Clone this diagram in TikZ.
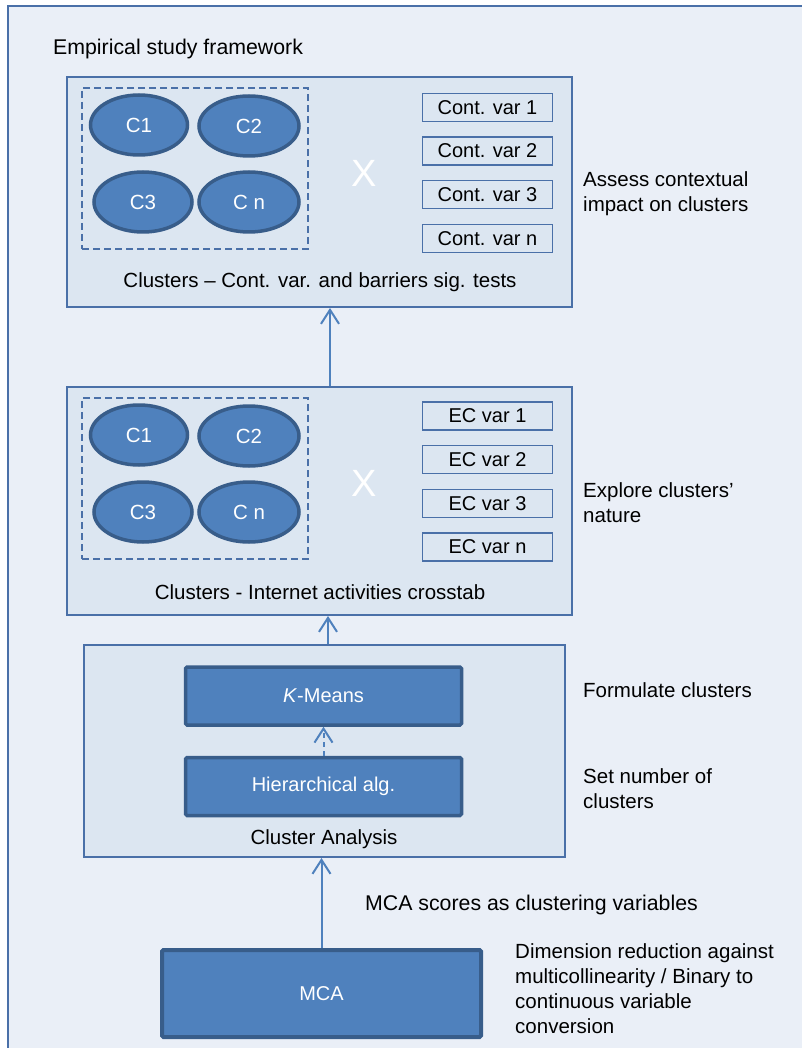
\documentclass[tikz,border=0pt]{standalone}
\usepackage{fontspec}
\setmainfont{Liberation Sans}
\usetikzlibrary{arrows.meta,shapes.geometric}
\definecolor{bgc}{HTML}{EAEFF7}
\definecolor{pfill}{HTML}{DCE6F1}
\definecolor{pborder}{HTML}{4A70A8}
\definecolor{dfill}{HTML}{4F81BD}
\definecolor{dborder}{HTML}{385D8A}
\begin{document}
\begin{tikzpicture}[x=1pt,y=-1pt,
  every node/.style={font=\fontsize{20.5}{25}\selectfont, inner sep=0pt},
  panel/.style={draw=pborder, line width=2pt, fill=pfill},
  varbox/.style={draw=pborder, line width=1.5pt, fill=pfill, minimum width=130pt, minimum height=28pt, font=\fontsize{20}{24}\selectfont},
  clu/.style={ellipse, draw=dborder, line width=3.5pt, fill=dfill, text=white, minimum height=60pt, font=\fontsize{20.5}{24}\selectfont},
  dbox/.style={draw=dborder, line width=3.5pt, fill=dfill, text=white, rounded corners=1.5pt, font=\fontsize{20}{24}\selectfont},
  dashbox/.style={draw=pborder, line width=1.5pt, dash pattern=on 7pt off 4pt},
  lab/.style={anchor=west, align=left},
  biglab/.style={font=\fontsize{21.3}{25}\selectfont},
  bigx/.style={text=white, font=\fontsize{38}{40}\selectfont},
  arr/.style={draw=dfill, line width=2pt, -{Straight Barb[length=14pt,width=18pt]}}
]
\useasboundingbox (0,0) rectangle (802,1048);
\fill[white] (0,0) rectangle (802,1048);
\draw[draw=pborder, line width=2pt, fill=bgc] (8,6) rectangle (830,1070);

\node[lab, biglab, anchor=base west] (title) at (53,55) {Empirical study framework};

% top panel
\node[panel, minimum width=505pt, minimum height=230pt] (top) at (319.5,192) {};
\node[dashbox, minimum width=226pt, minimum height=161pt] (dtop) at (195,168.5) {};
\node[clu, minimum width=97pt] (tc1) at (139,125) {C1};
\node[clu, minimum width=100pt] (tc2) at (249,126) {C2};
\node[clu, minimum width=98pt] (tc3) at (143,202) {C3};
\node[clu, minimum width=100pt] (tcn) at (249,202) {C n};
\node[bigx] (tx) at (364,173) {X};
\node[varbox] (tv1) at (487.5,107.5) {Cont. var 1};
\node[varbox] (tv2) at (487.5,151) {Cont. var 2};
\node[varbox] (tv3) at (487.5,194.5) {Cont. var 3};
\node[varbox] (tvn) at (487.5,238.5) {Cont. var n};
\node (tcap) at (320,282) {Clusters – Cont. var. and barriers sig. tests};
\node[lab] (tlab) at (583,193.5) {Assess contextual\\impact on clusters};

% middle panel
\node[panel, minimum width=505pt, minimum height=228pt] (mid) at (319.5,501) {};
\node[dashbox, minimum width=226pt, minimum height=161pt] (dmid) at (195,478.5) {};
\node[clu, minimum width=97pt] (mc1) at (139,435) {C1};
\node[clu, minimum width=100pt] (mc2) at (249,436) {C2};
\node[clu, minimum width=98pt] (mc3) at (143,512) {C3};
\node[clu, minimum width=100pt] (mcn) at (249,512) {C n};
\node[bigx] (mx) at (364,483) {X};
\node[varbox] (mv1) at (487.5,416) {EC var 1};
\node[varbox] (mv2) at (487.5,459.5) {EC var 2};
\node[varbox] (mv3) at (487.5,503.5) {EC var 3};
\node[varbox] (mvn) at (487.5,547) {EC var n};
\node (mcap) at (320,592) {Clusters - Internet activities crosstab};
\node[lab] (mlab) at (583,503) {Explore clusters'\\nature};

% cluster analysis panel
\node[panel, minimum width=481pt, minimum height=212pt] (clus) at (324.5,751) {};
\node[dbox, minimum width=276pt, minimum height=58pt] (km) at (323.5,696) {\textit{K}-Means};
\node[dbox, minimum width=276pt, minimum height=58pt] (hier) at (323.5,786.5) {Hierarchical alg.};
\node (ccap) at (324,839) {Cluster Analysis};
\node[lab] (flab) at (583,690) {Formulate clusters};
\node[lab] (slab) at (583,788.5) {Set number of\\clusters};

% MCA
\node[dbox, line width=4pt, minimum width=319pt, minimum height=87pt] (mca) at (321.5,993.5) {MCA};
\node[lab, biglab] (scorelab) at (365,905) {MCA scores as clustering variables};
\node[lab] (dlab) at (515,989) {Dimension reduction against\\multicollinearity / Binary to\\continuous variable\\conversion};

% connectors
\draw[arr] ([xshift=10.5pt]mid.north) -- ([xshift=10.5pt]top.south);
\draw[arr] ([xshift=3.5pt]clus.north) -- ([xshift=3.5pt]clus.north |- mid.south);
\draw[arr, dash pattern=on 5pt off 4pt] (hier.north) -- (km.south);
\draw[arr] (mca.north) -- (mca.north |- clus.south);
\end{tikzpicture}
\end{document}
